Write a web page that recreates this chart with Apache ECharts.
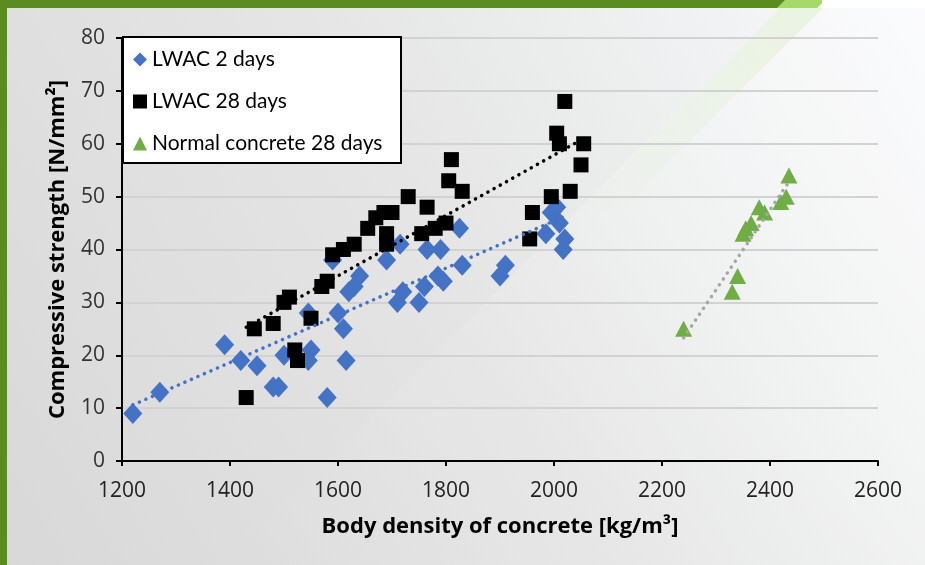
<!DOCTYPE html>
<html><head><meta charset="utf-8">
<script src="https://cdn.jsdelivr.net/npm/echarts@6/dist/echarts.min.js"></script>
<style>html,body{margin:0;padding:0;}#c{width:925px;height:565px;}</style>
</head><body><div id="c"></div>
<script>
// LWAC 2 days [density, strength]
const lwac2 = [[1220,9],[1270,13],[1390,22],[1420,19],[1450,18],[1480,14],[1490,14],[1500,20],[1545,28],[1550,21],[1545,19],[1580,12],[1600,28],[1610,25],[1615,19],[1620,32],[1630,33],[1640,35],[1590,38],[1690,38],[1715,41],[1720,32],[1710,30],[1750,30],[1760,33],[1765,40],[1785,35],[1790,40],[1795,34],[1825,44],[1830,37],[1900,35],[1910,37],[1985,43],[1995,47],[2005,48],[2010,45],[2020,42],[2017,40]];
// LWAC 28 days
const lwac28 = [[1430,12],[1445,25],[1480,26],[1500,30],[1510,31],[1520,21],[1525,19],[1550,27],[1570,33],[1580,34],[1590,39],[1610,40],[1630,41],[1655,44],[1670,46],[1685,47],[1690,41],[1690,43],[1700,47],[1730,50],[1755,43],[1765,48],[1780,44],[1800,45],[1805,53],[1810,57],[1830,51],[1955,42],[1960,47],[1995,50],[2005,62],[2010,60],[2020,68],[2030,51],[2050,56],[2055,60]];
// Normal concrete 28 days
const normal28 = [[2240,25],[2330,32],[2340,35],[2350,43],[2355,44],[2365,45],[2380,48],[2390,47],[2420,49],[2430,50],[2435,54]];
// Trendline endpoints
const trend2 = [[1220,10.6],[2020,46.3]];
const trend28 = [[1430,25.3],[2055,61.0]];
const trendN = [[2240,23.3],[2435,52.8]];
const seriesNames = ['LWAC 2 days','LWAC 28 days','Normal concrete 28 days'];
const xTicks = {min:1200,max:2600,interval:200};
const yTicks = {min:0,max:80,interval:10};

const chart = echarts.init(document.getElementById('c'));
const blue = '#4472c4', black = '#000000', green = '#70ad47';
chart.setOption({
  animation:false,
  backgroundColor:{type:'linear',x:0,y:1,x2:1,y2:0,colorStops:[{offset:0,color:'#d8d8d8'},{offset:0.5,color:'#e4e5e4'},{offset:1,color:'#f8f9fb'}]},
  graphic:[
    {type:'polygon',shape:{points:[[780,8],[925,8],[925,565],[223,565]]},
      style:{fill:{type:'linear',x:1,y:0,x2:0,y2:1,colorStops:[{offset:0,color:'rgba(255,255,255,0.4)'},{offset:0.6,color:'rgba(255,255,255,0.1)'},{offset:1,color:'rgba(255,255,255,0)'}]}},z:-1},
    {type:'polygon',shape:{points:[[780,8],[823,8],[620,210],[580,210]]},
      style:{fill:{type:'linear',x:1,y:0,x2:0,y2:1,colorStops:[{offset:0,color:'rgba(215,238,195,0.45)'},{offset:1,color:'rgba(215,238,195,0)'}]}},z:-1},
    {type:'rect',shape:{x:0,y:0,width:7,height:565},style:{fill:'#5b8c22'},z:10},
    {type:'rect',shape:{x:0,y:0,width:790,height:8},style:{fill:'#5b8c22'},z:10},
    {type:'polygon',shape:{points:[[785,0],[825,0],[817,8],[777,8]]},style:{fill:'#a6d86a'},z:10},
    {type:'rect',shape:{x:822,y:0,width:103,height:8},style:{fill:'#ffffff'},z:10},
    {type:'rect',shape:{x:123,y:37,width:278,height:126},style:{fill:'#ffffff',stroke:'#000',lineWidth:2},z:5}
  ],
  grid:{left:122,right:47,top:38,bottom:104},
  legend:{
    orient:'vertical',left:128,top:44,itemGap:21,itemWidth:14,itemHeight:14,z:6,
    textStyle:{fontFamily:'Lato',fontSize:21,color:'#000',lineHeight:20},
    data:[{name:seriesNames[0],icon:'diamond'},{name:seriesNames[1],icon:'rect'},{name:seriesNames[2],icon:'triangle'}]
  },
  xAxis:{type:'value',min:xTicks.min,max:xTicks.max,interval:xTicks.interval,
    name:'Body density of concrete [kg/m³]',nameLocation:'middle',nameGap:55,
    nameTextStyle:{fontFamily:'Open Sans',fontWeight:'bold',fontSize:22,color:'#000'},
    axisLine:{lineStyle:{color:'#000',width:2}},axisTick:{show:true,length:5,lineStyle:{color:'#000',width:2}},
    splitLine:{show:false},
    axisLabel:{fontFamily:'Open Sans',fontSize:21,color:'#222',margin:20,formatter:v=>String(v)}},
  yAxis:{type:'value',min:yTicks.min,max:yTicks.max,interval:yTicks.interval,
    name:'Compressive strength [N/mm²]',nameLocation:'middle',nameGap:53,
    nameTextStyle:{fontFamily:'Open Sans',fontWeight:'bold',fontSize:22,color:'#000'},
    axisLine:{show:true,lineStyle:{color:'#000',width:2}},axisTick:{show:true,length:6,lineStyle:{color:'#000',width:2}},
    splitLine:{show:true,lineStyle:{color:'#d2d2d2',width:2}},
    axisLabel:{fontFamily:'Open Sans',fontSize:21,color:'#333',margin:17}},
  series:[
    {name:seriesNames[0],type:'scatter',data:lwac2,symbol:'diamond',symbolSize:[19,21],itemStyle:{color:blue,opacity:1},z:2},
    {name:seriesNames[1],type:'scatter',data:lwac28,symbol:'rect',symbolSize:15,itemStyle:{color:black,opacity:1},z:3},
    {name:seriesNames[2],type:'scatter',data:normal28,symbol:'triangle',symbolSize:[17,16],itemStyle:{color:green,opacity:1},z:3},
    {name:'t2',type:'line',data:trend2,symbol:'none',lineStyle:{color:blue,width:3.5,type:[0.1,7],cap:'round'},z:4},
    {name:'t28',type:'line',data:trend28,symbol:'none',lineStyle:{color:black,width:3.5,type:[0.1,7],cap:'round'},z:4},
    {name:'tN',type:'line',data:trendN,symbol:'none',lineStyle:{color:'#a6a6a6',width:3.5,type:[0.1,7],cap:'round'},z:4}
  ]
});
</script></body></html>
